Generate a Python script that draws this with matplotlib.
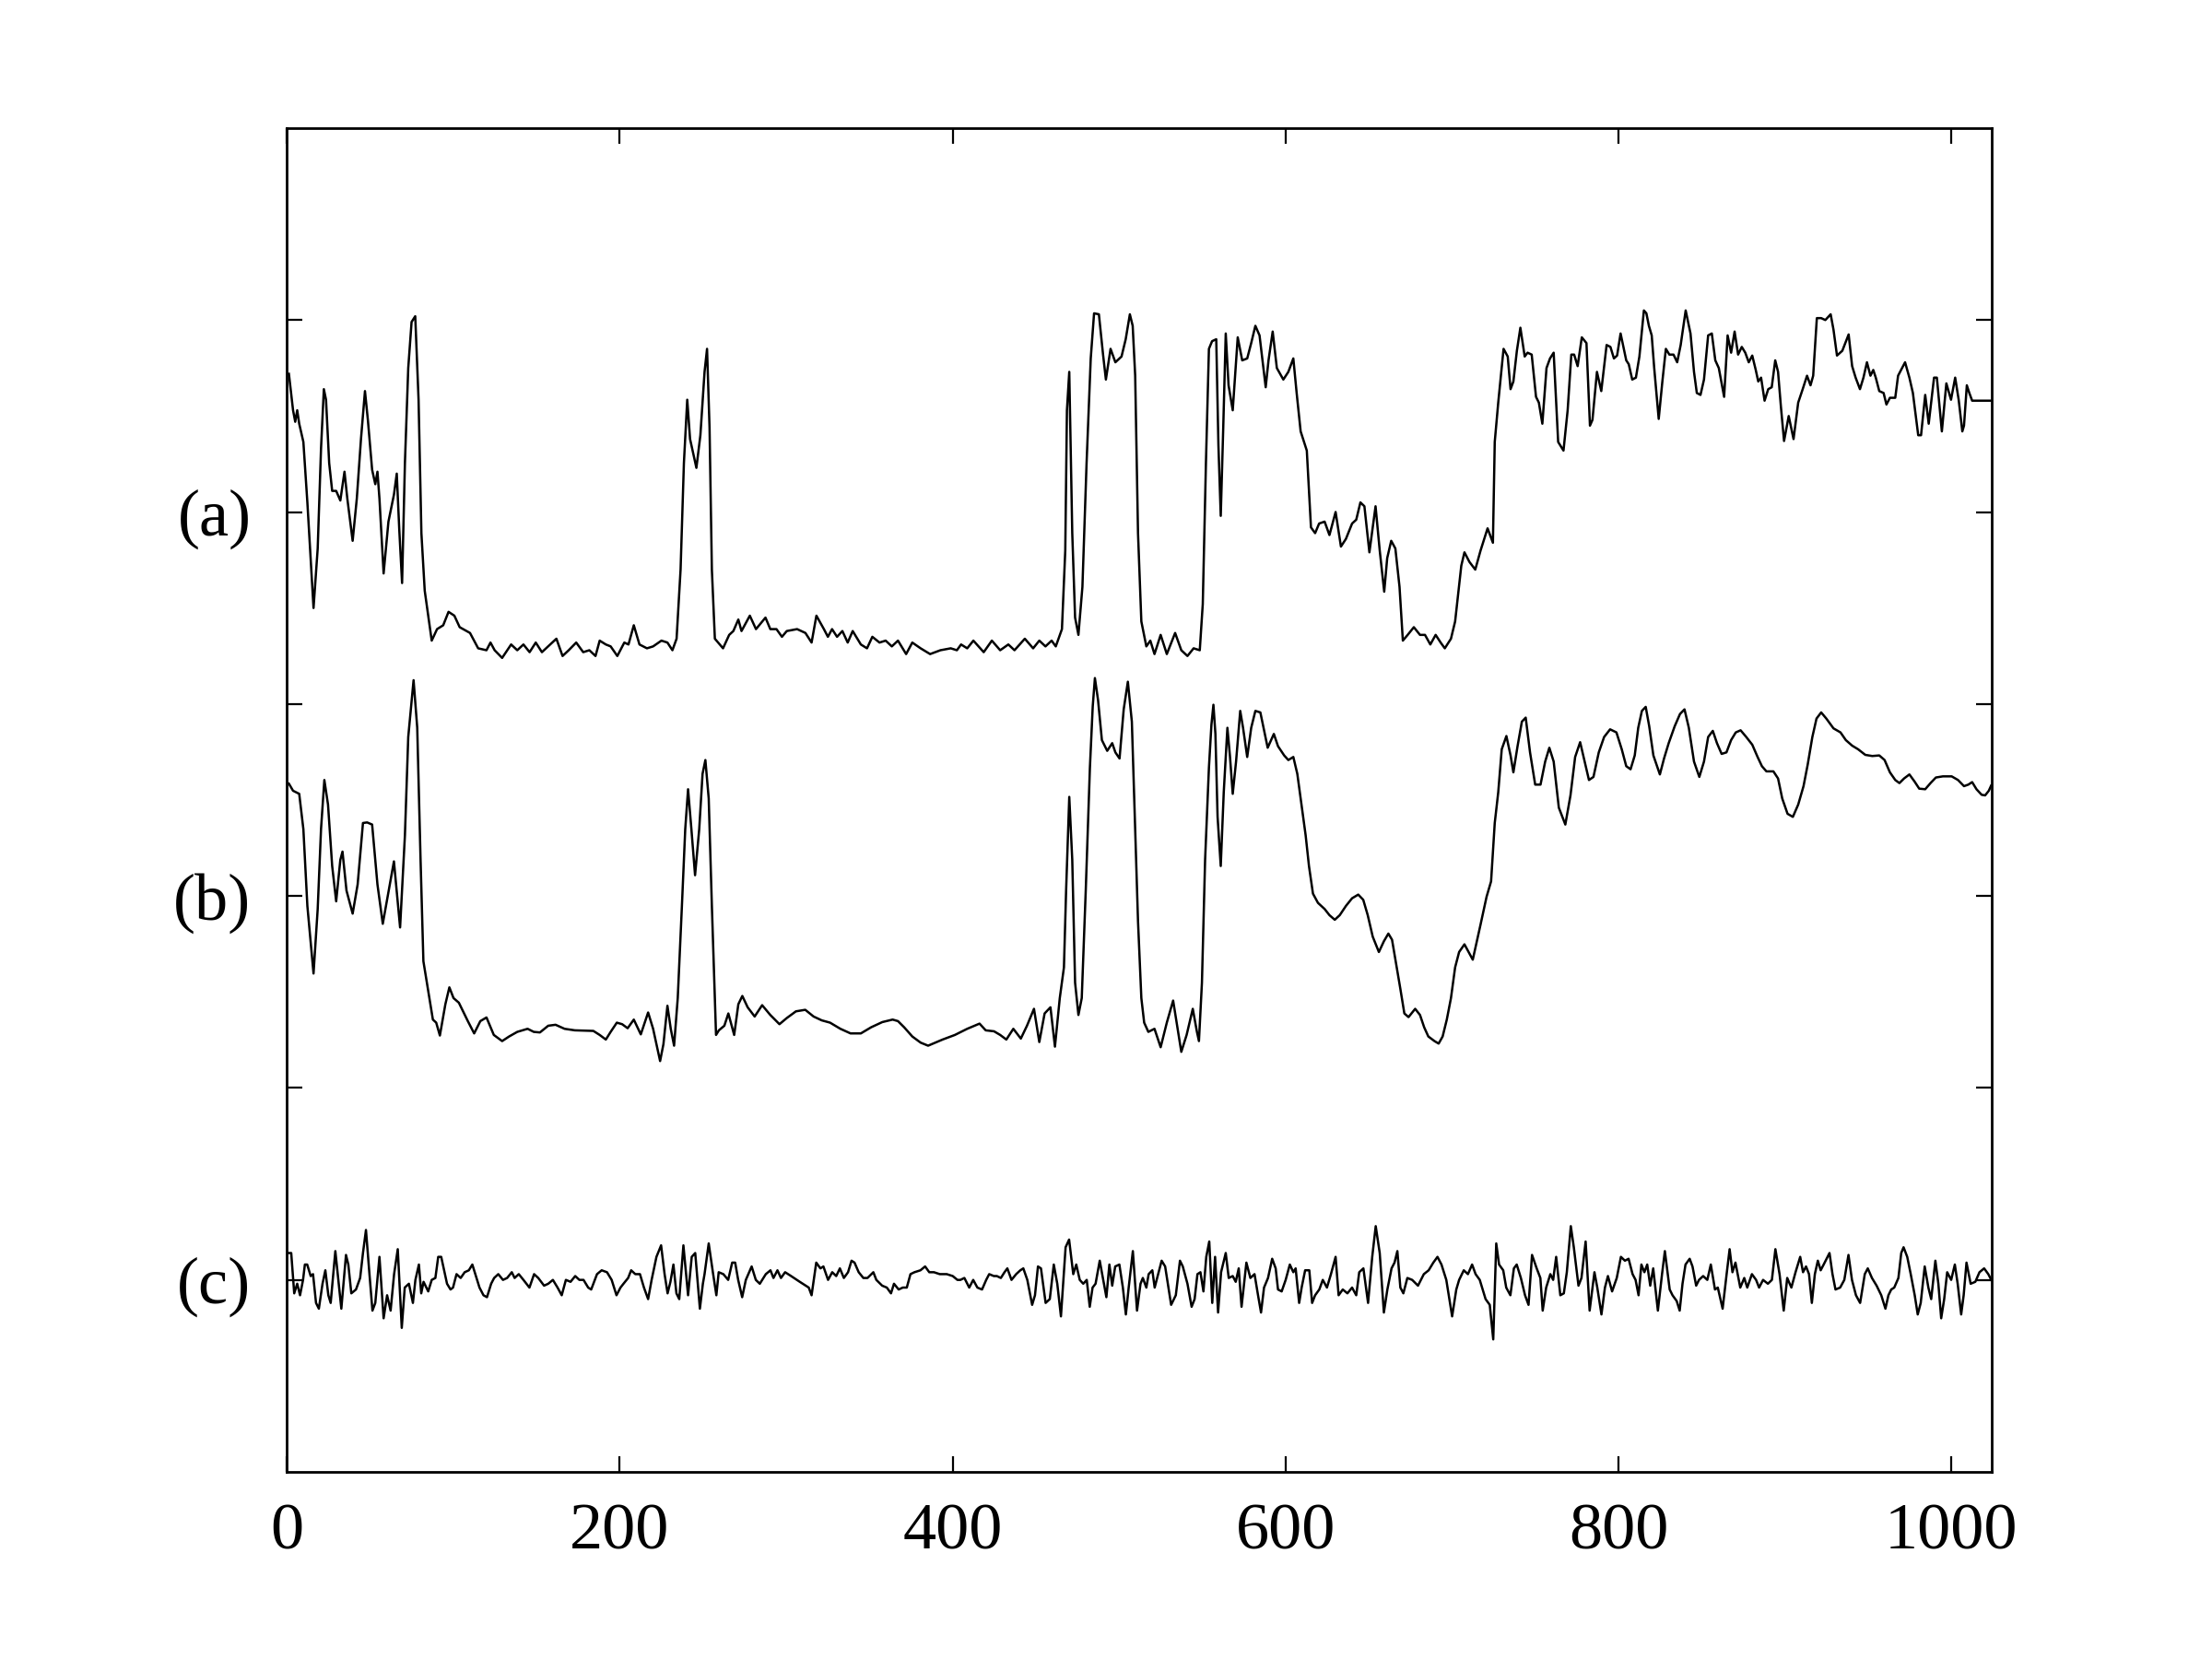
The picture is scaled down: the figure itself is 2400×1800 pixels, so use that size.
import numpy as np
import matplotlib
matplotlib.use('Agg')
import matplotlib.pyplot as plt

# (x, value) pairs; values are relative to each trace's baseline
a_pts = [
    (1.2, 0.72), (3.7, 0.53), (5.0, 0.47), (6.2, 0.53), (7.4, 0.46), (9.9, 0.365), (12.3, 0.05),
    (16.0, -0.50), (18.5, -0.19), (20.5, 0.33), (22.2, 0.64), (23.5, 0.585), (25.4, 0.255),
    (27.2, 0.11), (29.6, 0.11), (32.1, 0.06), (34.6, 0.21), (36.3, 0.07), (39.5, -0.15),
    (42.0, 0.07), (44.5, 0.38), (46.9, 0.63), (48.7, 0.475), (51.2, 0.22), (53.1, 0.145),
    (54.4, 0.21), (55.6, 0.07), (58.1, -0.32), (61.0, -0.05), (64.3, 0.09), (66.0, 0.20),
    (67.5, -0.09), (69.2, -0.37), (70.9, 0.255), (72.9, 0.75), (74.9, 0.99), (77.1, 1.02),
    (79.1, 0.585), (80.8, -0.11), (82.8, -0.41), (87.0, -0.67), (90.2, -0.61), (93.9, -0.59),
    (97.1, -0.52), (100.6, -0.54), (103.8, -0.60), (110.0, -0.63), (114.9, -0.71), (119.9, -0.72),
    (122.3, -0.68), (124.8, -0.72), (129.3, -0.76), (134.7, -0.69), (138.4, -0.72), (142.1, -0.69),
    (145.8, -0.73), (149.5, -0.68), (153.2, -0.73), (156.9, -0.70), (161.9, -0.66), (165.6, -0.75),
    (169.3, -0.72), (173.8, -0.68), (178.0, -0.73), (181.7, -0.72), (185.4, -0.75), (187.9, -0.67),
    (191.6, -0.69), (194.5, -0.70), (198.5, -0.75), (202.7, -0.68), (205.2, -0.69), (208.4, -0.59),
    (211.8, -0.69), (216.3, -0.71), (220.0, -0.70), (225.0, -0.67), (228.6, -0.68), (231.6, -0.72),
    (234.1, -0.66), (236.5, -0.30), (238.5, 0.255), (240.5, 0.585), (242.2, 0.38), (246.0, 0.23),
    (248.4, 0.40), (250.9, 0.73), (252.4, 0.85), (253.9, 0.44), (255.3, -0.30), (257.1, -0.66),
    (262.0, -0.71), (265.7, -0.64), (268.2, -0.62), (271.2, -0.56), (273.1, -0.62), (278.1, -0.54),
    (281.8, -0.61), (287.5, -0.55), (290.4, -0.61), (294.1, -0.61), (297.4, -0.65), (300.3, -0.62),
    (306.5, -0.61), (311.5, -0.63), (315.2, -0.68), (318.1, -0.54), (322.6, -0.61), (325.0, -0.65),
    (327.5, -0.61), (330.5, -0.65), (333.7, -0.62), (336.9, -0.68), (339.9, -0.62), (344.8, -0.69),
    (348.5, -0.71), (351.7, -0.65), (356.0, -0.68), (359.7, -0.67), (363.4, -0.70), (367.1, -0.67),
    (372.0, -0.74), (375.7, -0.68), (380.7, -0.71),
    (386.4, -0.74), (392.6, -0.72), (398.8, -0.71), (402.5, -0.72), (405.0, -0.69), (408.7, -0.71),
    (412.4, -0.67), (418.6, -0.73), (423.5, -0.67), (428.5, -0.72), (433.4, -0.69), (437.1, -0.72),
    (443.3, -0.66), (448.3, -0.71), (452.0, -0.67), (455.7, -0.70), (459.4, -0.67), (461.9, -0.70),
    (465.6, -0.61), (467.6, -0.20), (468.6, 0.53), (470.0, 0.73), (471.8, -0.11), (473.5, -0.55),
    (475.5, -0.64), (477.9, -0.39), (480.4, 0.255), (482.9, 0.80), (484.9, 1.035), (487.8, 1.03),
    (490.3, 0.82), (492.0, 0.69), (494.8, 0.85), (497.7, 0.78), (501.4, 0.81), (503.9, 0.90),
    (506.4, 1.03), (508.1, 0.97), (509.6, 0.71), (511.3, -0.11), (513.3, -0.57), (516.3, -0.70),
    (518.7, -0.67), (521.2, -0.74), (524.9, -0.64), (528.6, -0.74), (533.6, -0.63), (537.3, -0.72),
    (541.0, -0.75), (544.7, -0.71), (548.4, -0.72), (550.2, -0.48), (552.1, 0.255), (553.9, 0.85),
    (555.8, 0.89), (558.3, 0.90), (559.6, 0.35), (561.0, -0.02), (562.5, 0.44), (564.0, 0.93),
    (565.7, 0.66), (568.2, 0.53), (571.2, 0.91), (573.9, 0.79), (576.9, 0.80), (579.3, 0.88),
    (581.8, 0.97), (584.3, 0.92), (588.0, 0.65), (589.7, 0.79), (592.2, 0.94), (594.7, 0.75),
    (598.6, 0.69), (601.6, 0.73), (604.6, 0.80), (606.6, 0.62), (609.0, 0.42), (612.7, 0.32),
    (615.2, -0.08), (617.7, -0.11), (620.1, -0.06), (623.4, -0.05), (626.3, -0.12), (630.0, 0.00),
    (633.2, -0.18), (636.2, -0.14), (639.9, -0.06), (642.4, -0.04), (644.9, 0.05), (647.3, 0.03),
    (650.3, -0.21), (654.0, 0.03), (656.5, -0.20), (659.2, -0.415), (661.0, -0.24), (663.4, -0.15),
    (665.9, -0.19), (668.4, -0.39), (670.4, -0.67), (673.3, -0.64), (677.0, -0.60), (680.7, -0.64),
    (683.7, -0.64), (686.9, -0.69), (690.1, -0.64), (693.1, -0.68), (695.6, -0.71), (699.3, -0.66),
    (701.8, -0.57), (705.5, -0.28), (707.4, -0.21), (710.4, -0.26), (713.9, -0.30), (717.1, -0.20),
    (721.3, -0.085), (724.5, -0.16), (725.6, 0.365), (727.7, 0.57), (730.9, 0.85), (733.4, 0.81),
    (735.1, 0.64), (736.8, 0.68), (738.9, 0.84), (741.0, 0.96), (743.6, 0.81), (745.3, 0.83),
    (747.8, 0.82), (750.4, 0.60), (752.1, 0.57), (754.2, 0.46), (756.7, 0.75), (758.8, 0.80),
    (761.0, 0.83), (763.7, 0.365), (766.9, 0.32), (769.4, 0.53), (771.6, 0.82), (773.3, 0.82),
    (775.4, 0.76), (777.9, 0.91), (780.7, 0.88), (782.8, 0.45), (784.3, 0.48), (787.0, 0.73),
    (789.6, 0.63), (792.8, 0.87), (795.1, 0.86), (797.2, 0.80), (799.1, 0.815), (801.2, 0.93),
    (804.6, 0.79), (806.1, 0.77), (808.2, 0.69), (810.4, 0.70), (812.5, 0.81), (815.2, 1.05),
    (816.7, 1.035), (818.2, 0.97), (819.9, 0.92), (821.4, 0.75), (824.1, 0.485), (826.3, 0.68),
    (828.4, 0.85), (830.5, 0.82), (833.0, 0.82), (835.2, 0.78), (837.3, 0.87), (840.3, 1.05),
    (843.2, 0.93), (845.3, 0.73), (847.0, 0.62), (849.2, 0.61), (851.3, 0.69), (853.8, 0.92),
    (856.0, 0.93), (858.1, 0.79), (860.2, 0.75), (863.4, 0.60), (865.5, 0.92), (867.6, 0.83),
    (869.7, 0.94), (871.8, 0.82), (874.0, 0.86), (876.1, 0.83), (878.2, 0.78), (880.3, 0.815),
    (882.4, 0.74), (883.9, 0.68), (885.6, 0.70), (887.7, 0.58), (889.9, 0.64), (892.0, 0.65),
    (894.1, 0.79), (895.8, 0.73), (897.5, 0.55), (899.4, 0.37), (902.2, 0.50), (905.1, 0.38),
    (907.9, 0.57), (910.6, 0.64), (913.2, 0.71), (915.3, 0.66), (916.9, 0.71), (919.1, 1.01),
    (921.7, 1.01), (924.2, 1.00), (927.4, 1.03), (929.1, 0.95), (931.2, 0.815), (934.4, 0.84),
    (938.2, 0.925), (940.3, 0.76), (942.4, 0.70), (945.0, 0.64), (947.1, 0.70), (949.2, 0.78),
    (951.3, 0.71), (953.0, 0.74), (954.5, 0.70), (956.6, 0.63), (959.2, 0.62), (960.9, 0.56),
    (963.0, 0.595), (966.2, 0.595), (967.9, 0.71), (972.1, 0.78), (974.7, 0.70), (976.8, 0.62),
    (980.0, 0.40), (981.7, 0.40), (984.2, 0.61), (986.3, 0.46), (989.5, 0.70), (991.2, 0.70),
    (994.2, 0.42), (996.9, 0.67), (999.7, 0.585), (1002.2, 0.70), (1004.3, 0.585), (1006.5, 0.42),
    (1007.5, 0.45), (1009.2, 0.66), (1010.7, 0.62), (1012.4, 0.58), (1023.4, 0.58),
]

b_pts = [
    (1.2, 0.585), (3.7, 0.548), (7.4, 0.532), (9.9, 0.348), (12.3, -0.052), (16.0, -0.404),
    (18.5, -0.068), (20.5, 0.348), (22.5, 0.604), (24.7, 0.476), (27.2, 0.156), (29.6, -0.028),
    (32.1, 0.188), (33.4, 0.231), (35.8, 0.028), (39.5, -0.092), (42.5, 0.06), (45.7, 0.38),
    (48.2, 0.383), (51.2, 0.372), (54.4, 0.06), (57.6, -0.145), (60.5, -0.004), (64.3, 0.18),
    (68.0, -0.164), (70.9, 0.316), (72.9, 0.828), (76.1, 1.124), (78.3, 0.876), (80.3, 0.188),
    (82.0, -0.34), (85.3, -0.516), (87.7, -0.644), (89.7, -0.66), (91.9, -0.727), (95.2, -0.564),
    (97.6, -0.476), (100.1, -0.532), (103.3, -0.556), (108.7, -0.652), (112.5, -0.716),
    (116.2, -0.652), (119.9, -0.633), (124.3, -0.724), (129.3, -0.756), (133.5, -0.732),
    (138.4, -0.708), (144.6, -0.692), (148.3, -0.708), (152.0, -0.711), (157.0, -0.676),
    (161.4, -0.671), (166.8, -0.692), (173.0, -0.70), (184.1, -0.703), (187.9, -0.724),
    (191.6, -0.748), (194.5, -0.708), (198.2, -0.66), (201.4, -0.668), (204.7, -0.689),
    (208.4, -0.644), (212.6, -0.721), (217.0, -0.607), (220.0, -0.692), (224.2, -0.86),
    (226.2, -0.772), (228.6, -0.572), (230.6, -0.692), (232.6, -0.78), (234.8, -0.532),
    (237.3, -0.052), (239.3, 0.348), (241.0, 0.556), (243.0, 0.348), (245.2, 0.108), (247.7, 0.348),
    (249.7, 0.636), (251.4, 0.708), (253.4, 0.508), (255.3, -0.052), (257.8, -0.724), (259.5, -0.70),
    (262.8, -0.676), (265.2, -0.612), (268.7, -0.724), (271.2, -0.564), (273.6, -0.521),
    (276.8, -0.58), (281.0, -0.628), (285.5, -0.569), (290.4, -0.62), (295.9, -0.668),
    (300.3, -0.636), (305.8, -0.601), (311.4, -0.593), (316.4, -0.628), (321.3, -0.648),
    (326.3, -0.66), (332.5, -0.692), (338.6, -0.716), (344.8, -0.716), (351.0, -0.684),
    (357.7, -0.657), (363.9, -0.644), (367.1, -0.652), (370.8, -0.684), (375.7, -0.732),
    (380.7, -0.764), (385.2, -0.78), (393.9, -0.748), (401.3, -0.724), (408.7, -0.692),
    (416.1, -0.665), (419.8, -0.70), (424.8, -0.705), (428.5, -0.724), (432.2, -0.748),
    (436.4, -0.692), (440.9, -0.743), (444.6, -0.676), (448.8, -0.588), (452.0, -0.761),
    (455.2, -0.612), (458.7, -0.58), (461.4, -0.785), (464.3, -0.532), (466.8, -0.372),
    (468.1, 0.028), (470.0, 0.516), (471.8, 0.188), (473.5, -0.452), (475.5, -0.62), (477.5, -0.532),
    (479.9, 0.028), (482.4, 0.668), (484.1, 0.988), (485.4, 1.135), (487.3, 1.02), (489.6, 0.812),
    (492.8, 0.756), (495.8, 0.796), (497.7, 0.748), (500.2, 0.716), (502.7, 0.972), (505.2, 1.116),
    (507.6, 0.908), (509.6, 0.348), (511.3, -0.132), (513.3, -0.532), (515.0, -0.66),
    (517.5, -0.708), (521.2, -0.692), (524.9, -0.788), (528.6, -0.66), (532.4, -0.545),
    (534.8, -0.676), (537.3, -0.812), (540.5, -0.724), (544.2, -0.588), (546.7, -0.708),
    (547.9, -0.756), (549.7, -0.452), (551.6, 0.188), (553.9, 0.668), (555.4, 0.892), (556.6, 0.996),
    (557.8, 0.844), (559.1, 0.412), (561.0, 0.156), (562.8, 0.54), (565.0, 0.876), (566.5, 0.732),
    (568.2, 0.532), (570.2, 0.70), (572.7, 0.964), (574.4, 0.876), (576.9, 0.724), (579.3, 0.876),
    (581.8, 0.964), (584.8, 0.956), (587.3, 0.852), (589.2, 0.772), (592.9, 0.844), (595.4, 0.78),
    (599.1, 0.732), (601.6, 0.708), (604.6, 0.724), (607.0, 0.636), (609.5, 0.476), (612.0, 0.316),
    (614.0, 0.156), (616.4, 0.012), (619.4, -0.036), (623.4, -0.068), (626.3, -0.10),
    (629.5, -0.124), (632.5, -0.10), (636.2, -0.052), (639.9, -0.012), (643.6, 0.007),
    (646.6, -0.02), (649.3, -0.10), (652.3, -0.212), (656.0, -0.292), (659.0, -0.236),
    (661.7, -0.196), (663.9, -0.228), (666.4, -0.356), (668.9, -0.484), (671.3, -0.612),
    (673.8, -0.631), (677.8, -0.588), (680.7, -0.62), (683.2, -0.684), (685.7, -0.732),
    (689.4, -0.756), (691.9, -0.769), (694.3, -0.732), (696.8, -0.644), (699.3, -0.532),
    (701.8, -0.372), (704.2, -0.292), (707.4, -0.252), (709.9, -0.292), (712.4, -0.332),
    (717.1, -0.148), (720.7, -0.004), (723.4, 0.076), (725.6, 0.38), (727.7, 0.54), (729.8, 0.764),
    (732.6, 0.833), (735.1, 0.732), (736.8, 0.644), (739.3, 0.78), (741.9, 0.908), (744.2, 0.929),
    (746.8, 0.748), (749.9, 0.58), (753.1, 0.58), (755.9, 0.70), (758.4, 0.772), (761.0, 0.70),
    (764.1, 0.46), (768.0, 0.372), (771.1, 0.524), (773.9, 0.724), (776.9, 0.801), (779.6, 0.70),
    (782.2, 0.604), (784.9, 0.62), (788.1, 0.748), (791.3, 0.828), (794.9, 0.868), (798.7, 0.852),
    (801.9, 0.764), (804.6, 0.676), (807.2, 0.66), (809.7, 0.732), (811.8, 0.876), (814.0, 0.964),
    (816.3, 0.985), (818.4, 0.884), (820.9, 0.732), (824.8, 0.633), (827.3, 0.716), (830.1, 0.796),
    (833.7, 0.884), (836.9, 0.948), (839.6, 0.972), (842.2, 0.876), (845.3, 0.70), (848.5, 0.62),
    (851.3, 0.70), (853.8, 0.828), (856.6, 0.86), (859.1, 0.796), (861.9, 0.74), (864.8, 0.748),
    (867.6, 0.812), (870.4, 0.852), (873.3, 0.863), (876.7, 0.828), (880.3, 0.788), (883.5, 0.724),
    (886.1, 0.676), (888.8, 0.649), (893.0, 0.649), (895.8, 0.612), (898.3, 0.508), (901.5, 0.428),
    (904.7, 0.412), (907.9, 0.476), (911.1, 0.572), (913.6, 0.684), (916.4, 0.828), (918.9, 0.924),
    (921.7, 0.956), (924.8, 0.924), (929.1, 0.873), (933.3, 0.852), (936.5, 0.812), (940.3, 0.783),
    (943.9, 0.764), (948.2, 0.735), (952.4, 0.729), (956.6, 0.732), (959.8, 0.708), (963.0, 0.644),
    (966.2, 0.604), (968.7, 0.588), (971.5, 0.612), (974.7, 0.633), (977.8, 0.596), (980.6, 0.559),
    (984.2, 0.556), (987.4, 0.588), (990.6, 0.617), (994.8, 0.623), (1000.1, 0.623), (1003.9, 0.604),
    (1007.5, 0.572), (1010.1, 0.58), (1012.4, 0.593), (1015.0, 0.556), (1018.1, 0.527),
    (1020.2, 0.524), (1022.4, 0.548), (1023.8, 0.575),
]

c_pts = [
    (0.9, 0.14), (2.6, 0.14), (4.4, -0.07), (6.2, -0.02), (7.9, -0.08), (9.7, 0.00), (10.8, 0.08),
    (12.2, 0.08), (14.3, 0.02), (15.7, 0.03), (17.5, -0.12), (19.2, -0.15), (21.4, -0.02),
    (23.1, 0.05), (24.9, -0.08), (26.3, -0.12), (29.1, 0.15), (30.9, 0.00), (32.7, -0.15),
    (35.5, 0.13), (36.9, 0.08), (38.7, -0.07), (41.5, -0.05), (44.0, 0.01), (45.7, 0.14),
    (47.5, 0.26), (49.6, 0.03), (51.4, -0.16), (53.1, -0.12), (55.6, 0.12), (58.1, -0.20),
    (60.2, -0.08), (62.3, -0.16), (64.4, 0.03), (66.6, 0.16), (69.0, -0.25), (70.8, -0.04),
    (73.3, -0.02), (75.7, -0.12), (77.2, 0.00), (79.3, 0.08), (80.7, -0.07), (82.1, -0.01),
    (84.9, -0.06), (87.0, 0.00), (89.2, 0.01), (90.9, 0.12), (92.7, 0.12), (96.2, -0.02),
    (98.3, -0.05), (99.8, -0.04), (101.9, 0.03), (104.4, 0.01), (106.8, 0.04), (109.3, 0.05),
    (111.4, 0.08), (113.2, 0.03), (115.7, -0.04), (118.1, -0.08), (120.2, -0.09), (122.7, -0.02),
    (124.5, 0.01), (127.0, 0.03), (129.8, 0.00), (132.3, 0.01), (135.1, 0.04), (136.8, 0.01),
    (139.3, 0.03), (142.1, 0.00), (145.7, -0.04), (148.5, 0.03), (151.0, 0.01), (154.5, -0.03),
    (157.0, -0.02), (159.8, 0.00), (162.6, -0.04), (165.1, -0.08), (167.6, 0.00), (170.4, -0.01),
    (173.2, 0.02), (175.7, 0.00), (178.2, 0.00), (181.0, -0.04), (182.8, -0.05), (186.3, 0.03),
    (189.1, 0.05), (192.3, 0.04), (195.1, 0.00), (198.0, -0.08), (200.4, -0.04), (202.2, -0.02),
    (205.0, 0.01), (206.8, 0.05), (209.3, 0.03), (212.1, 0.03), (214.5, -0.04), (217.0, -0.10),
    (219.1, 0.00), (222.0, 0.12), (224.8, 0.18), (226.9, 0.03), (228.7, -0.07), (230.4, -0.01),
    (232.2, 0.08), (234.0, -0.07), (235.7, -0.10), (238.2, 0.18), (241.0, -0.08), (243.2, 0.12),
    (245.3, 0.14), (248.1, -0.15), (249.9, -0.02), (250.9, 0.03), (253.4, 0.19), (255.9, 0.04),
    (258.0, -0.08), (259.4, 0.04), (262.2, 0.03), (265.1, 0.00), (267.5, 0.09), (269.3, 0.09),
    (271.1, 0.00), (273.5, -0.09), (275.7, 0.00), (279.2, 0.07), (281.7, 0.00), (284.1, -0.02),
    (287.7, 0.03), (290.5, 0.05), (292.3, 0.01), (294.7, 0.05), (296.8, 0.01), (299.3, 0.04),
    (302.9, 0.02), (308.1, -0.01), (313.5, -0.04), (315.2, -0.08), (318.0, 0.09), (320.5, 0.06),
    (322.3, 0.07), (325.1, 0.00), (327.6, 0.04), (330.0, 0.02), (332.2, 0.06), (334.6, 0.01),
    (337.1, 0.04), (339.2, 0.10), (341.0, 0.09), (343.5, 0.04), (346.3, 0.01), (348.8, 0.01),
    (352.3, 0.04), (354.1, 0.00), (357.6, -0.03), (360.4, -0.04), (362.9, -0.07), (364.7, -0.02),
    (367.5, -0.05), (370.0, -0.04), (372.4, -0.04), (374.6, 0.03), (377.0, 0.04), (380.6, 0.05),
    (383.4, 0.07), (385.9, 0.04), (388.7, 0.04), (392.2, 0.03), (396.4, 0.03), (400.0, 0.02),
    (402.8, 0.00), (404.6, 0.00), (407.0, 0.01), (409.9, -0.04), (412.3, 0.00), (414.8, -0.04),
    (417.6, -0.05), (420.1, 0.00), (421.9, 0.03), (424.7, 0.02), (426.5, 0.02), (428.9, 0.01),
    (431.1, 0.04), (432.8, 0.06), (435.3, 0.00), (438.1, 0.03), (440.6, 0.05), (442.4, 0.06),
    (444.8, 0.00), (447.7, -0.13), (449.4, -0.08), (451.2, 0.07), (453.0, 0.06), (455.8, -0.12),
    (458.3, -0.10), (460.7, 0.08), (462.8, -0.02), (465.0, -0.19), (467.8, 0.17), (469.9, 0.21),
    (472.4, 0.03), (474.2, 0.08), (476.3, 0.00), (478.4, -0.02), (480.5, 0.00), (482.3, -0.14),
    (484.0, -0.04), (485.8, -0.02), (488.3, 0.10), (492.3, -0.09), (494.1, 0.08), (495.8, -0.03),
    (497.6, 0.07), (500.1, 0.08), (502.2, -0.04), (504.0, -0.18), (505.7, -0.04), (508.2, 0.15),
    (510.7, -0.16), (512.8, -0.02), (514.2, 0.01), (516.3, -0.04), (517.7, 0.03), (519.9, 0.05),
    (521.3, -0.04), (523.4, 0.03), (525.5, 0.10), (527.6, 0.07), (531.2, -0.13), (534.0, -0.08),
    (536.5, 0.10), (538.2, 0.07), (541.0, -0.02), (543.5, -0.14), (545.3, -0.10), (547.0, 0.03),
    (548.8, 0.04), (550.6, -0.06), (552.3, 0.12), (554.1, 0.20), (555.9, -0.12), (557.6, 0.12),
    (559.4, -0.17), (561.2, 0.04), (564.0, 0.14), (565.8, 0.01), (568.2, 0.02), (570.0, -0.01),
    (571.8, 0.06), (573.5, -0.14), (576.4, 0.09), (578.8, 0.01), (581.3, 0.03), (583.4, -0.08),
    (585.2, -0.17), (587.0, -0.04), (589.4, 0.01), (591.9, 0.11), (594.0, 0.06), (595.4, -0.05),
    (597.6, -0.06), (600.0, 0.00), (602.5, 0.08), (604.6, 0.04), (606.0, 0.06), (608.1, -0.12),
    (609.6, -0.04), (611.7, 0.05), (614.2, 0.05), (615.9, -0.12), (617.7, -0.08), (620.2, -0.05),
    (622.3, 0.00), (624.8, -0.04), (627.2, 0.03), (630.0, 0.12), (631.8, -0.08), (634.3, -0.05),
    (637.1, -0.07), (639.9, -0.04), (642.4, -0.08), (644.2, 0.04), (646.7, 0.06), (649.5, -0.12),
    (652.0, 0.12), (654.1, 0.28), (656.5, 0.14), (659.0, -0.17), (661.1, -0.05), (663.6, 0.06),
    (665.4, 0.09), (667.1, 0.15), (668.9, -0.04), (670.7, -0.07), (673.1, 0.01), (676.0, 0.00),
    (679.5, -0.03), (683.0, 0.03), (685.9, 0.05), (688.7, 0.09), (691.2, 0.12), (693.6, 0.08),
    (696.5, 0.00), (700.0, -0.19), (702.5, -0.05), (704.2, 0.00), (707.0, 0.05), (709.5, 0.03),
    (712.0, 0.08), (714.1, 0.03), (716.6, 0.00), (720.1, -0.10), (722.6, -0.13), (724.7, -0.31),
    (726.5, 0.19), (728.2, 0.08), (730.7, 0.05), (732.5, -0.04), (735.0, -0.08), (737.1, 0.06),
    (738.8, 0.08), (741.3, 0.01), (743.8, -0.08), (745.9, -0.13), (748.0, 0.13), (750.8, 0.06),
    (753.0, 0.01), (754.4, -0.16), (756.5, -0.04), (759.0, 0.03), (760.7, 0.00), (762.5, 0.12),
    (765.0, -0.08), (767.1, -0.07), (768.9, 0.04), (771.3, 0.28), (773.1, 0.17), (775.9, -0.03),
    (777.7, 0.01), (780.2, 0.20), (782.6, -0.16), (785.5, 0.04), (787.2, -0.04), (789.7, -0.18),
    (791.8, -0.04), (793.6, 0.02), (796.1, -0.06), (798.9, 0.01), (801.4, 0.12), (803.8, 0.10),
    (806.0, 0.11), (808.4, 0.03), (810.2, 0.00), (812.0, -0.08), (813.7, 0.08), (815.5, 0.04),
    (817.2, 0.08), (819.0, -0.03), (820.8, 0.06), (823.6, -0.16), (826.1, 0.03), (827.8, 0.15),
    (830.7, -0.05), (832.4, -0.08), (834.9, -0.11), (836.7, -0.16), (838.4, -0.02), (840.2, 0.08),
    (842.7, 0.11), (844.4, 0.07), (846.6, -0.03), (848.3, 0.00), (850.8, 0.02), (853.3, 0.00),
    (855.4, 0.08), (857.9, -0.05), (859.6, -0.04), (862.5, -0.15), (864.9, 0.03), (866.7, 0.16),
    (868.4, 0.04), (870.2, 0.09), (873.1, -0.04), (875.5, 0.01), (877.3, -0.04), (880.1, 0.03),
    (882.6, 0.00), (884.4, -0.04), (886.8, 0.00), (889.7, -0.02), (892.1, 0.00), (894.2, 0.16),
    (896.7, 0.03), (899.2, -0.16), (901.3, 0.01), (903.8, -0.04), (906.3, 0.04), (909.1, 0.12),
    (910.8, 0.04), (912.6, 0.07), (914.4, 0.03), (916.1, -0.12), (917.9, 0.03), (919.7, 0.10),
    (921.4, 0.05), (923.2, 0.08), (926.7, 0.14), (928.5, 0.03), (930.3, -0.05), (933.1, -0.04),
    (935.6, 0.00), (938.1, 0.13), (940.2, 0.00), (942.6, -0.08), (945.1, -0.12), (947.9, 0.03),
    (949.7, 0.06), (952.2, 0.01), (955.0, -0.03), (957.8, -0.08), (960.3, -0.15), (962.1, -0.08),
    (963.8, -0.05), (965.6, -0.04), (968.1, 0.01), (969.8, 0.14), (971.2, 0.17), (973.4, 0.12),
    (975.5, 0.03), (977.9, -0.08), (979.7, -0.18), (981.5, -0.12), (983.9, 0.07), (986.1, -0.04),
    (987.8, -0.10), (990.3, 0.10), (992.1, -0.02), (993.8, -0.20), (995.6, -0.10), (997.4, 0.04),
    (999.8, 0.00), (1002.0, 0.08), (1003.7, -0.02), (1005.8, -0.18), (1007.3, -0.08), (1009.0, 0.09),
    (1011.5, -0.02), (1014.3, -0.01), (1016.8, 0.04), (1019.6, 0.06), (1022.1, 0.03), (1023.9, 0.00),
]

series = [a_pts, b_pts, c_pts]
baselines = [5, 3, 1]
y_labels = ['(c)', '', '(b)', '', '(a)', '']
x_ticks = [0, 200, 400, 600, 800, 1000]

plt.rcParams['font.family'] = ['Liberation Serif', 'DejaVu Serif']

fig = plt.figure(figsize=(12, 9), dpi=200)
ax = fig.add_axes([0.1297, 0.1128, 0.7706, 0.81])

for pts, base in zip(series, baselines):
    x, y = np.array(pts).T
    ax.plot(x, y + base, color='black', lw=0.9)

ax.set_xlim(0, 1024)
ax.set_ylim(0, 7)
ax.set_xticks(x_ticks)
ax.set_yticks(range(1, 7))
ax.set_yticklabels(y_labels)
ax.tick_params(direction='in', top=True, right=True, labelsize=26, length=6, width=0.8)
ax.tick_params(axis='x', pad=12)
ax.tick_params(axis='y', pad=14)
for s in ax.spines.values():
    s.set_linewidth(1.0)

fig.savefig('out.png', dpi=200)
